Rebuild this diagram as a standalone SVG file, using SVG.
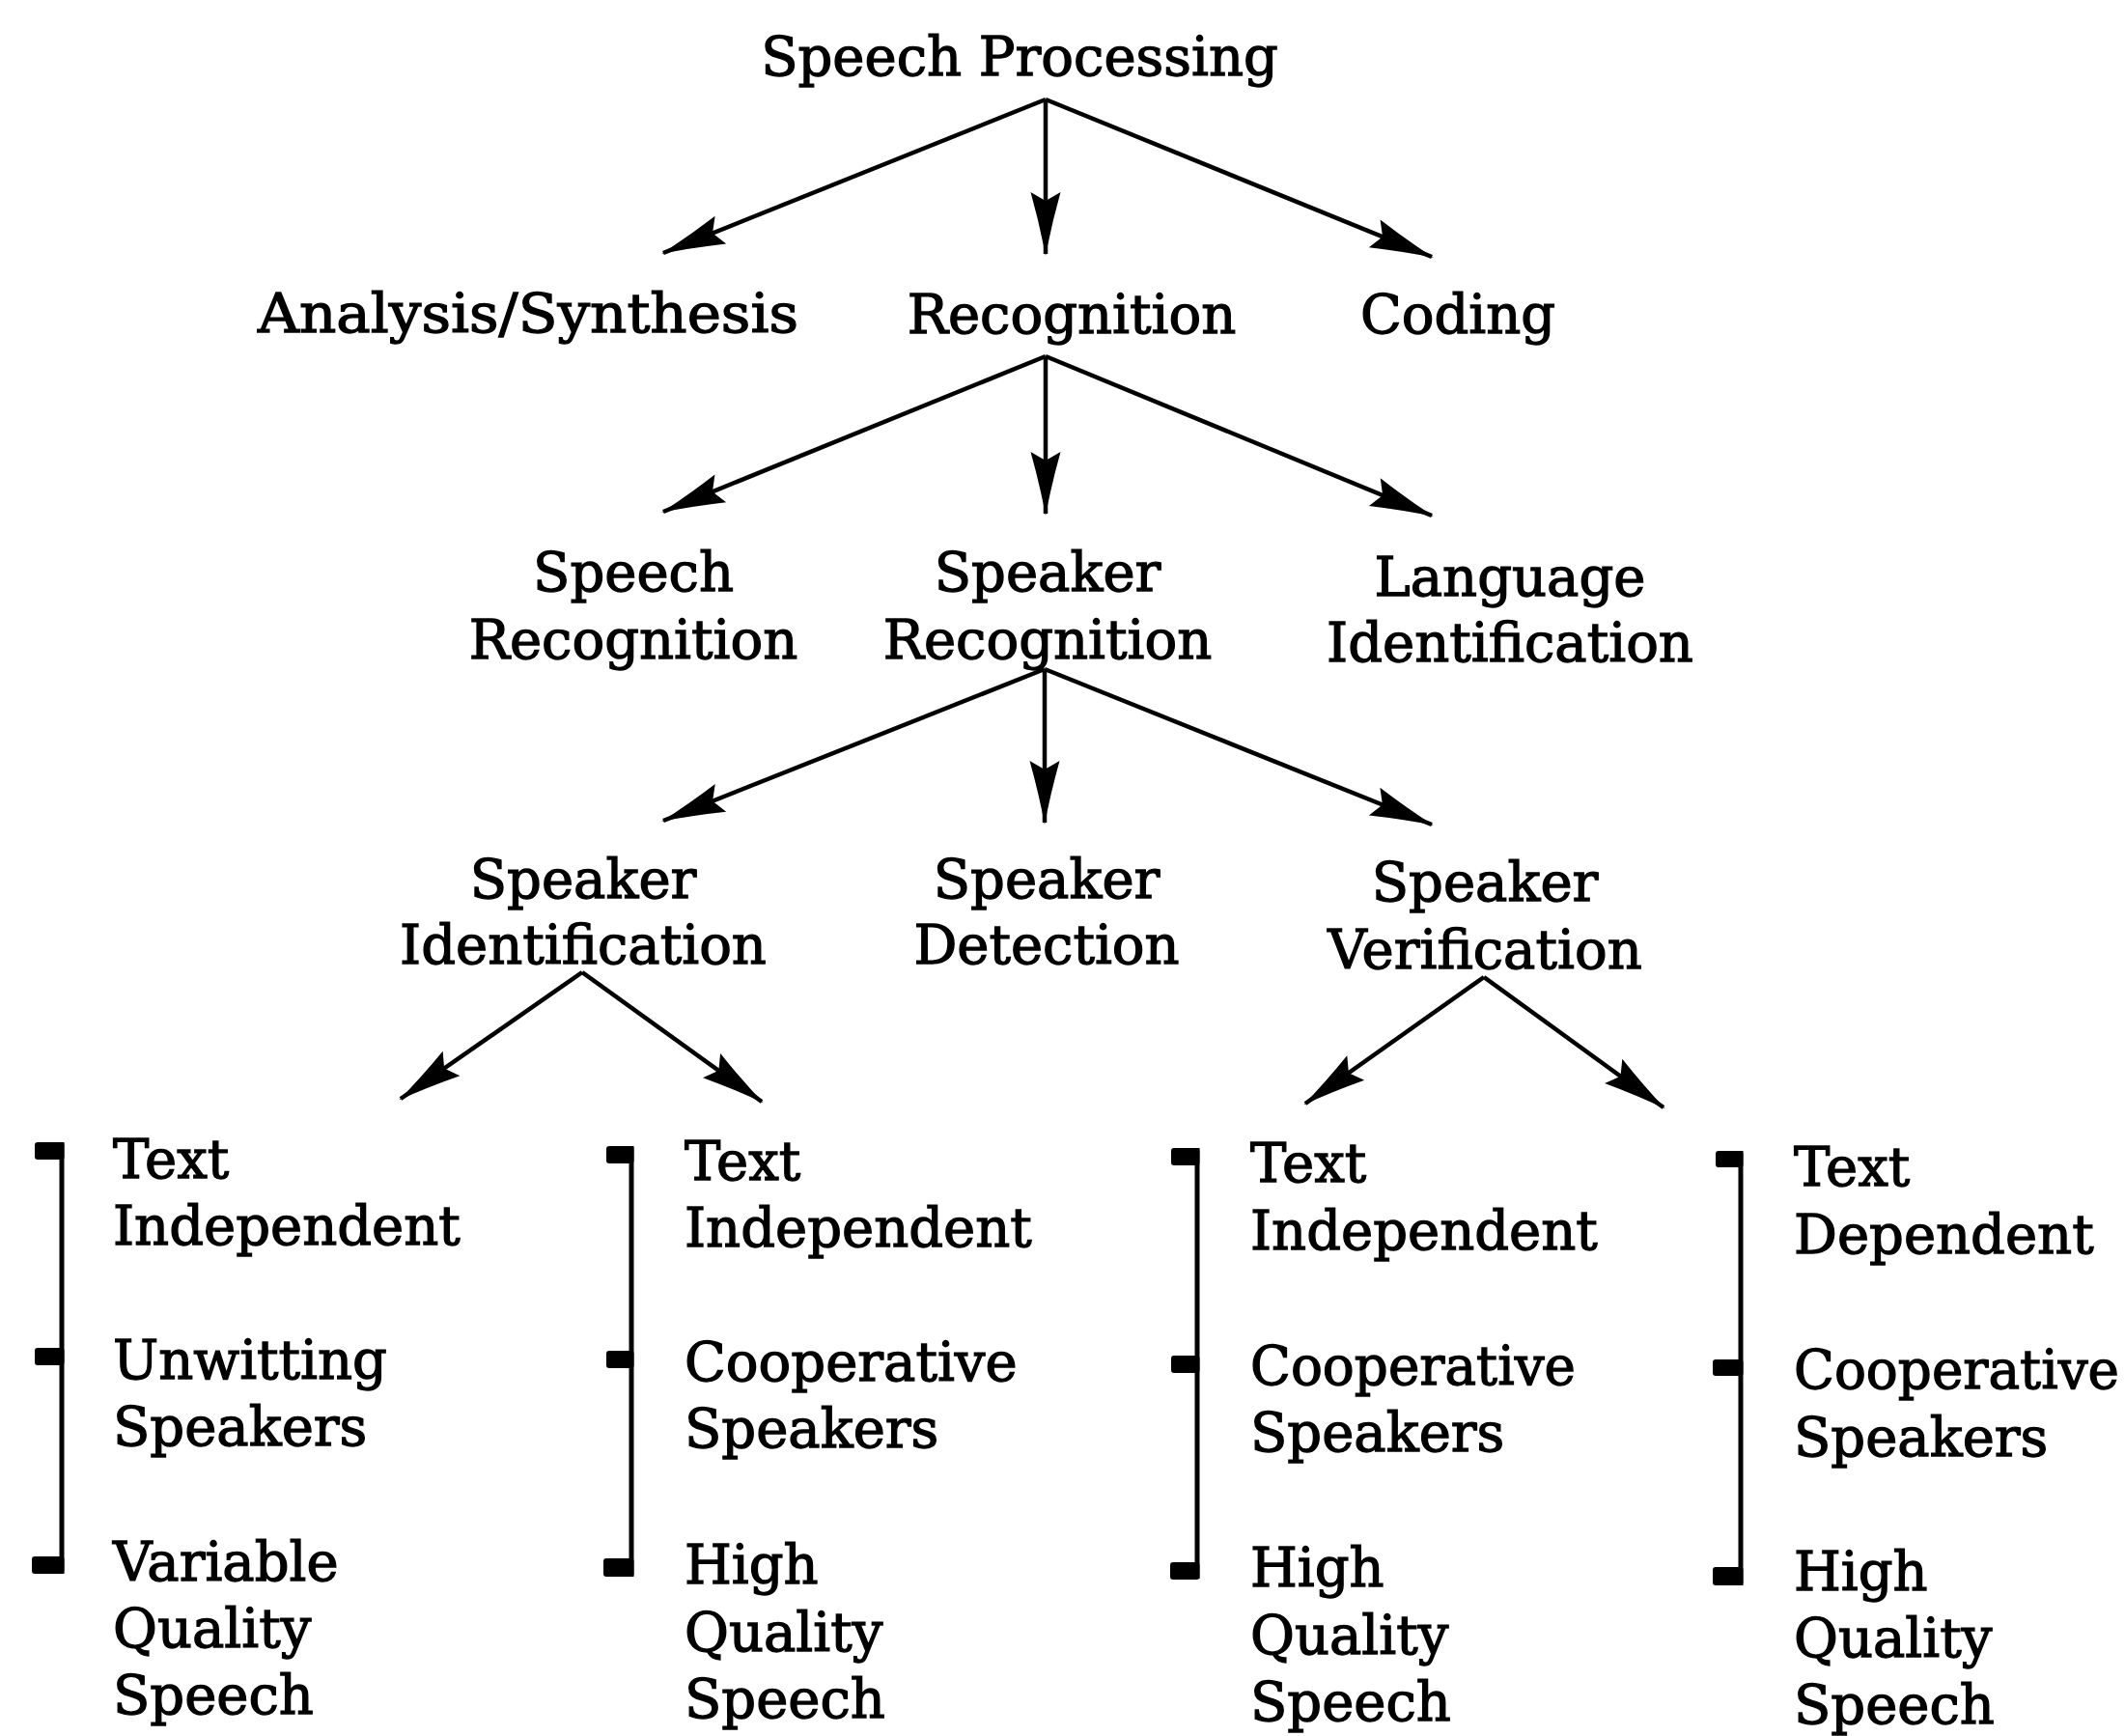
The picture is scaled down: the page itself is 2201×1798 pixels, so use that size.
<svg xmlns="http://www.w3.org/2000/svg" width="2201" height="1798" viewBox="0 0 2201 1798">
<style>
  text { font-family: "DejaVu Serif", "Liberation Serif", serif; font-size: 56px; fill: #000; stroke: #000; stroke-width: 1.3; }
  .c { text-anchor: middle; }
  .edge { stroke: #000; stroke-width: 4.5; fill: none; marker-end: url(#ah); }
  .br { fill: #000; }
</style>
<defs>
  <marker id="ah" markerUnits="userSpaceOnUse" markerWidth="80" markerHeight="40" viewBox="-70 -20 74 40" refX="0" refY="0" orient="auto">
    <path d="M2,0 Q-30,-6 -64,-15.5 L-55,0 L-64,15.5 Q-30,6 2,0 Z" fill="#000"/>
  </marker>
</defs>
<rect width="2201" height="1798" fill="#fff"/>

<g id="connectors">
  <path class="edge" d="M1083,103 L687,262"/>
  <path class="edge" d="M1083,103 L1083,263"/>
  <path class="edge" d="M1083,103 L1483,266"/>
  <path class="edge" d="M1083,369 L687,530"/>
  <path class="edge" d="M1083,369 L1083,532"/>
  <path class="edge" d="M1083,369 L1483,534"/>
  <path class="edge" d="M1082,693 L687,850"/>
  <path class="edge" d="M1082,693 L1082,852"/>
  <path class="edge" d="M1082,693 L1483,854"/>
  <path class="edge" d="M603,1007 L415,1138"/>
  <path class="edge" d="M603,1007 L789,1141"/>
  <path class="edge" d="M1537,1012 L1352,1143"/>
  <path class="edge" d="M1537,1012 L1723,1147"/>
</g>

<g id="n-speech-processing"><text class="c" x="1056" y="78">Speech Processing</text></g>
<g id="n-analysis"><text class="c" x="547" y="344" textLength="560" lengthAdjust="spacingAndGlyphs">Analysis/Synthesis</text></g>
<g id="n-recognition"><text class="c" x="1110" y="345">Recognition</text></g>
<g id="n-coding"><text class="c" x="1510" y="345">Coding</text></g>

<g id="n-speech-recognition"><text class="c" x="656" y="612">Speech</text><text class="c" x="656" y="682">Recognition</text></g>
<g id="n-speaker-recognition"><text class="c" x="1085" y="612">Speaker</text><text class="c" x="1085" y="682">Recognition</text></g>
<g id="n-language-identification"><text class="c" x="1564" y="617">Language</text><text class="c" x="1564" y="685">Identification</text></g>

<g id="n-speaker-identification"><text class="c" x="604" y="930">Speaker</text><text class="c" x="604" y="998">Identification</text></g>
<g id="n-speaker-detection"><text class="c" x="1084" y="930">Speaker</text><text class="c" x="1084" y="998">Detection</text></g>
<g id="n-speaker-verification"><text class="c" x="1538" y="933">Speaker</text><text class="c" x="1538" y="1003">Verification</text></g>

<g id="n-col1">
  <g class="br">
    <rect x="61.5" y="1183" width="5" height="447"/>
    <rect x="36" y="1183" width="30.5" height="18" rx="3"/>
    <rect x="36" y="1396" width="30.5" height="18" rx="3"/>
    <rect x="33" y="1612" width="33.5" height="18" rx="3"/>
  </g>
  <text x="117" y="1220">Text</text>
  <text x="117" y="1289">Independent</text>
  <text x="117" y="1428">Unwitting</text>
  <text x="117" y="1497">Speakers</text>
  <text x="117" y="1637">Variable</text>
  <text x="117" y="1706">Quality</text>
  <text x="117" y="1775">Speech</text>
</g>

<g id="n-col2">
  <g class="br">
    <rect x="651.5" y="1187" width="5" height="446"/>
    <rect x="628" y="1187" width="28.5" height="18" rx="3"/>
    <rect x="628" y="1399" width="28.5" height="18" rx="3"/>
    <rect x="625" y="1614" width="31.5" height="19" rx="3"/>
  </g>
  <text x="709" y="1222">Text</text>
  <text x="709" y="1291">Independent</text>
  <text x="709" y="1430">Cooperative</text>
  <text x="709" y="1499">Speakers</text>
  <text x="709" y="1640">High</text>
  <text x="709" y="1710">Quality</text>
  <text x="709" y="1779">Speech</text>
</g>

<g id="n-col3">
  <g class="br">
    <rect x="1237.5" y="1189" width="5" height="446"/>
    <rect x="1213" y="1189" width="29.5" height="18" rx="3"/>
    <rect x="1213" y="1404" width="29.5" height="18" rx="3"/>
    <rect x="1212" y="1618" width="30.5" height="18" rx="3"/>
  </g>
  <text x="1295" y="1224">Text</text>
  <text x="1295" y="1294">Independent</text>
  <text x="1295" y="1434" textLength="337" lengthAdjust="spacingAndGlyphs">Cooperative</text>
  <text x="1295" y="1503">Speakers</text>
  <text x="1295" y="1643">High</text>
  <text x="1295" y="1713">Quality</text>
  <text x="1295" y="1782">Speech</text>
</g>

<g id="n-col4">
  <g class="br">
    <rect x="1800.5" y="1192" width="5" height="450"/>
    <rect x="1777" y="1192" width="28.5" height="17" rx="3"/>
    <rect x="1774" y="1408" width="31.5" height="17" rx="3"/>
    <rect x="1774" y="1623" width="31.5" height="19" rx="3"/>
  </g>
  <text x="1858" y="1228">Text</text>
  <text x="1858" y="1298">Dependent</text>
  <text x="1858" y="1438" textLength="337" lengthAdjust="spacingAndGlyphs">Cooperative</text>
  <text x="1858" y="1508">Speakers</text>
  <text x="1858" y="1647">High</text>
  <text x="1858" y="1716">Quality</text>
  <text x="1858" y="1785">Speech</text>
</g>
</svg>
